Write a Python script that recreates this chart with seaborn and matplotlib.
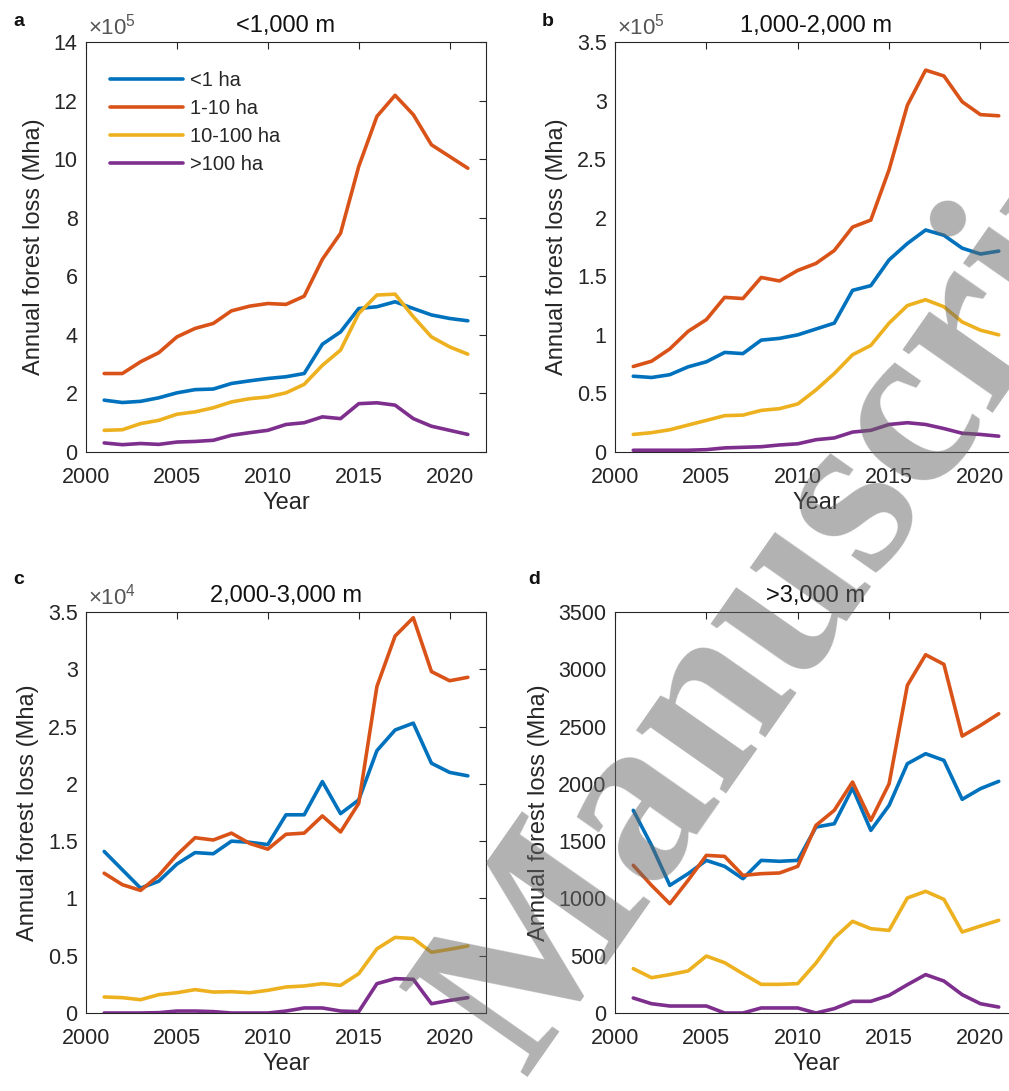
import matplotlib
matplotlib.use('Agg')
import matplotlib.pyplot as plt
from matplotlib.ticker import FuncFormatter
import numpy as np
import pandas as pd
import seaborn as sns

YEARS = list(range(2001, 2022))
SIZE_CLASSES = ['<1 ha', '1-10 ha', '10-100 ha', '>100 ha']
LINE_COLORS = ['#0072BD', '#D95319', '#EDB120', '#7E2F8E']
PANEL_TITLES = ['<1,000 m', '1,000-2,000 m', '2,000-3,000 m', '>3,000 m']
PANEL_LETTERS = ['a', 'b', 'c', 'd']

# values, in units of the axis multiplier
# a: <1,000 m  (x1e5)
a_small = [1.77, 1.69, 1.73, 1.85, 2.02, 2.13, 2.15, 2.34, 2.43, 2.51, 2.57, 2.68, 3.68, 4.10, 4.90, 4.96, 5.13,
           4.90, 4.68, 4.56, 4.48]
a_medium = [2.68, 2.68, 3.08, 3.39, 3.93, 4.22, 4.39, 4.82, 4.98, 5.07, 5.04, 5.32, 6.58, 7.47, 9.75, 11.46, 12.18,
            11.52, 10.49, 10.09, 9.69]
a_large = [0.74, 0.76, 0.97, 1.08, 1.29, 1.37, 1.51, 1.71, 1.82, 1.88, 2.02, 2.31, 2.96, 3.48, 4.73, 5.36, 5.39,
           4.62, 3.93, 3.59, 3.34]
a_huge = [0.31, 0.25, 0.29, 0.26, 0.34, 0.36, 0.40, 0.57, 0.66, 0.74, 0.94, 1.00, 1.20, 1.14, 1.65, 1.68, 1.60,
          1.14, 0.88, 0.74, 0.60]

# b: 1,000-2,000 m  (x1e5)
b_small = [0.647, 0.636, 0.66, 0.727, 0.77, 0.85, 0.84, 0.955, 0.97, 1.00, 1.05, 1.10, 1.38, 1.42, 1.64, 1.78,
           1.895, 1.85, 1.74, 1.69, 1.715]
b_medium = [0.73, 0.775, 0.88, 1.03, 1.13, 1.32, 1.31, 1.49, 1.46, 1.55, 1.61, 1.72, 1.92, 1.98, 2.41, 2.96, 3.26,
            3.21, 2.99, 2.88, 2.87]
b_large = [0.15, 0.165, 0.19, 0.23, 0.27, 0.31, 0.315, 0.355, 0.37, 0.41, 0.53, 0.67, 0.83, 0.91, 1.10, 1.25, 1.30,
           1.24, 1.11, 1.04, 1.00]
b_huge = [0.015, 0.015, 0.015, 0.015, 0.02, 0.035, 0.04, 0.045, 0.06, 0.07, 0.105, 0.12, 0.17, 0.185, 0.235, 0.25,
          0.235, 0.20, 0.16, 0.15, 0.135]

# c: 2,000-3,000 m  (x1e4)
c_small = [1.41, 1.25, 1.09, 1.15, 1.30, 1.40, 1.39, 1.50, 1.49, 1.47, 1.73, 1.73, 2.02, 1.74, 1.86, 2.29, 2.47,
           2.53, 2.18, 2.10, 2.07]
c_medium = [1.22, 1.12, 1.07, 1.20, 1.38, 1.53, 1.51, 1.57, 1.48, 1.43, 1.56, 1.57, 1.72, 1.58, 1.83, 2.85, 3.29,
            3.45, 2.98, 2.90, 2.93]
c_large = [0.14, 0.134, 0.116, 0.16, 0.177, 0.204, 0.183, 0.186, 0.177, 0.198, 0.227, 0.236, 0.256, 0.241, 0.343,
           0.56, 0.66, 0.65, 0.53, 0.556, 0.585]
c_huge = [0.0, 0.0, 0.0, 0.003, 0.017, 0.017, 0.012, 0.0, 0.0, 0.0, 0.017, 0.044, 0.044, 0.017, 0.012, 0.256, 0.30,
          0.294, 0.081, 0.11, 0.134]

# d: >3,000 m
d_small = [1769, 1463, 1114, 1216, 1332, 1280, 1172, 1332, 1324, 1332, 1623, 1652, 1964, 1594, 1812, 2176, 2263,
           2205, 1865, 1958, 2022]
d_medium = [1289, 1114, 954, 1158, 1376, 1367, 1201, 1216, 1222, 1280, 1638, 1769, 2016, 1681, 2001, 2860, 3127,
            3043, 2417, 2510, 2612]
d_large = [387, 308, 335, 367, 497, 439, 343, 250, 250, 256, 436, 655, 800, 736, 721, 1004, 1062, 992, 707, 759, 809]
d_huge = [131, 81, 61, 61, 61, 0, 0, 44, 44, 44, 0, 38, 102, 102, 154, 247, 335, 279, 160, 81, 52]

PANEL_DATA = [[a_small, a_medium, a_large, a_huge],
              [b_small, b_medium, b_large, b_huge],
              [c_small, c_medium, c_large, c_huge],
              [d_small, d_medium, d_large, d_huge]]
PANEL_SCALE = [1e5, 1e5, 1e4, 1]
PANEL_EXP = [5, 5, 4, None]
PANEL_YMAX = [14, 3.5, 3.5, 3500]
PANEL_YSTEP = [2, 0.5, 0.5, 500]

FIG_W, FIG_H = 1009, 1091
# axes boxes in pixels: left, top, right, bottom
AXES_PX = [(86, 42, 486, 452), (615, 42, 1017, 452), (86, 612, 486, 1013), (615, 612, 1017, 1013)]
LETTER_PX = [(13, 21), (542, 21), (13, 580), (528, 580)]

TEXT_COLOR = '#262626'

sns.set_style('white')
plt.rcParams['font.family'] = ['Liberation Sans', 'DejaVu Sans']
plt.rcParams['mathtext.fontset'] = 'custom'
plt.rcParams['mathtext.rm'] = 'Liberation Sans'
plt.rcParams['mathtext.it'] = 'Liberation Sans:italic'


def to_frame(series_list, scale):
    rows = []
    for label, values in zip(SIZE_CLASSES, series_list):
        for year, v in zip(YEARS, values):
            rows.append({'year': year, 'loss': v * scale, 'size': label})
    return pd.DataFrame(rows)


def draw_panel(fig, idx):
    left, top, right, bottom = AXES_PX[idx]
    ax = fig.add_axes([left / FIG_W, 1 - bottom / FIG_H, (right - left) / FIG_W, (bottom - top) / FIG_H])
    scale = PANEL_SCALE[idx]
    df = to_frame(PANEL_DATA[idx], scale)

    sns.lineplot(data=df, x='year', y='loss', hue='size', hue_order=SIZE_CLASSES, palette=LINE_COLORS,
                 linewidth=2.6, ax=ax, legend=(idx == 0))

    ax.set_xlim(2000, 2022)
    ax.set_ylim(0, PANEL_YMAX[idx] * scale)
    ax.set_xticks([2000, 2005, 2010, 2015, 2020])
    ax.set_yticks(np.arange(0, PANEL_YMAX[idx] + PANEL_YSTEP[idx] / 2, PANEL_YSTEP[idx]) * scale)
    ax.yaxis.set_major_formatter(FuncFormatter(lambda v, p: f'{v / scale:g}'))

    ax.tick_params(direction='in', top=True, right=True, length=5, width=0.8, color=TEXT_COLOR,
                   labelsize=15.5, labelcolor=TEXT_COLOR)
    ax.tick_params(axis='x', pad=11)
    ax.tick_params(axis='y', pad=6)
    for sp in ax.spines.values():
        sp.set_color(TEXT_COLOR)
        sp.set_linewidth(0.8)

    ax.set_xlabel('Year', fontsize=17, color=TEXT_COLOR, labelpad=3)
    ax.set_ylabel('Annual forest loss (Mha)', fontsize=17, color=TEXT_COLOR, labelpad=6)
    ax.set_title(PANEL_TITLES[idx], fontsize=17, color='#111111', pad=7)

    if PANEL_EXP[idx] is not None:
        ax.text(0.004, 1.006, r'$\times10^{%d}$' % PANEL_EXP[idx], transform=ax.transAxes, ha='left',
                va='bottom', fontsize=16, color='#555555')

    if idx == 0:
        handles, labels = ax.get_legend_handles_labels()
        ax.legend(handles, labels, loc='upper left', bbox_to_anchor=(0.06, 0.93), frameon=False, fontsize=14.5,
                  handlelength=3.6, labelspacing=0.45, handletextpad=0.35, borderaxespad=0, borderpad=0)

    lx, ly = LETTER_PX[idx]
    fig.text(lx / FIG_W, 1 - ly / FIG_H, PANEL_LETTERS[idx], fontsize=14, fontweight='bold', ha='left',
             va='center', color='#111111')
    return ax


fig = plt.figure(figsize=(FIG_W / 100, FIG_H / 100), dpi=100)
for i in range(4):
    draw_panel(fig, i)

# watermark across the figure
fig.text(524 / FIG_W, 1 - 1077 / FIG_H, 'Manuscript', fontsize=172, family='Liberation Serif', fontweight='bold',
         color='#666666', alpha=0.5, rotation=55, rotation_mode='anchor', ha='left', va='baseline', zorder=20)

fig.savefig('out.png', dpi=100)
